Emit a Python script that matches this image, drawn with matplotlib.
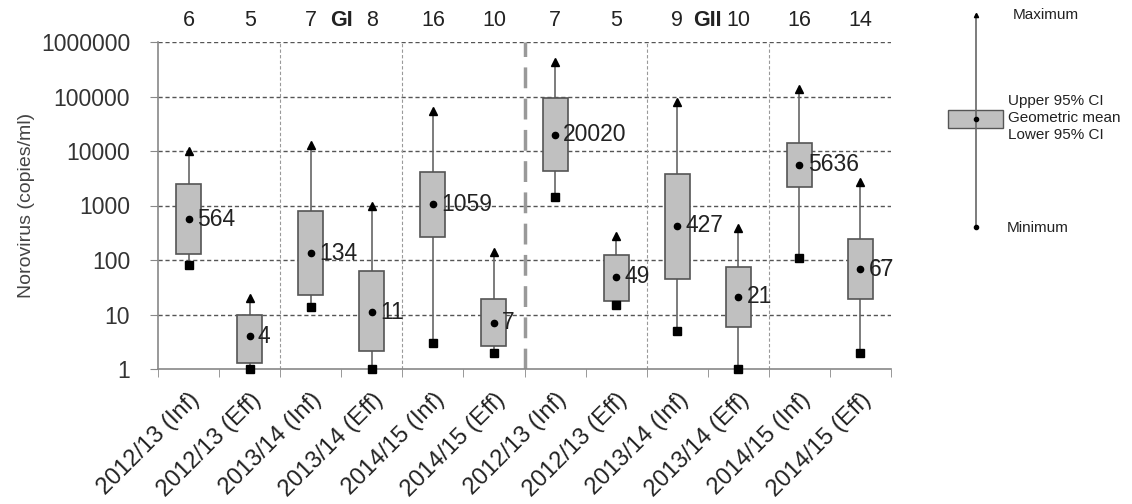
import matplotlib
matplotlib.use("Agg")
import matplotlib.pyplot as plt
import matplotlib.transforms as mtransforms

plt.rcParams['font.family'] = ['Liberation Sans', 'DejaVu Sans']

# data (copies/ml)
labels = ['2012/13 (Inf)', '2012/13 (Eff)', '2013/14 (Inf)', '2013/14 (Eff)',
          '2014/15 (Inf)', '2014/15 (Eff)', '2012/13 (Inf)', '2012/13 (Eff)',
          '2013/14 (Inf)', '2013/14 (Eff)', '2014/15 (Inf)', '2014/15 (Eff)']
n_samples = [6, 5, 7, 8, 16, 10, 7, 5, 9, 10, 16, 14]
geo_mean = [564, 4, 134, 11, 1059, 7, 20020, 49, 427, 21, 5636, 67]
ci_upper = [2460, 10, 800, 63, 4100, 19, 94000, 124, 3800, 74, 14000, 245]
ci_lower = [129, 1.3, 23, 2.1, 265, 2.6, 4300, 18, 45, 5.9, 2200, 19]
maximum = [10000, 20, 13000, 1000, 54000, 140, 430000, 275, 80000, 390, 138000, 2700]
minimum = [80, 1, 14, 1, 3, 2, 1440, 15, 5, 1, 110, 2]
groups = ['GI', 'GII']

x = list(range(len(labels)))

fig = plt.figure(figsize=(11.32, 5.04), dpi=100)
ax = fig.add_axes([158 / 1132, 1 - 369 / 504, 733 / 1132, 327 / 504])

ax.set_yscale('log')
ax.set_ylim(1, 1e6)
ax.set_xlim(-0.5, 11.5)

# grid
for v in [10, 100, 1000, 10000, 100000, 1000000]:
    ax.axhline(v, color='#555555', lw=1, ls=(0, (3, 2)), zorder=1)
for b in [1.5, 3.5, 7.5, 9.5]:
    ax.axvline(b, color='#999999', lw=0.8, ls=(0, (3, 2)), zorder=1)
ax.axvline(5.5, color='#999999', lw=2.5, ls=(0, (6, 3)), zorder=1)

# whiskers, boxes, markers
ax.vlines(x, minimum, maximum, color='#666666', lw=1.2, zorder=2)
heights = [u - l for u, l in zip(ci_upper, ci_lower)]
ax.bar(x, heights, bottom=ci_lower, width=0.41, color='#c0c0c0',
       edgecolor='#555555', linewidth=1.2, zorder=3)
ax.plot(x, maximum, '^', color='black', ms=6, zorder=4, clip_on=False)
ax.plot(x, minimum, 's', color='black', ms=5.5, zorder=4, clip_on=False)
ax.plot(x, geo_mean, 'o', color='black', ms=4.5, zorder=5)

for xi, m in zip(x, geo_mean):
    ax.annotate(str(m), (xi, m), xytext=(6, 0), textcoords='offset points',
                va='center', ha='left', fontsize=16.5, color='#222222', zorder=6)

# sample counts and group labels above the plot
trans = mtransforms.blended_transform_factory(ax.transData, ax.transAxes)
for xi, n in zip(x, n_samples):
    ax.text(xi, 1.067, str(n), transform=trans, ha='center', va='center',
            fontsize=15.5, color='#222222')
ax.text(2.5, 1.067, groups[0], transform=trans, ha='center', va='center',
        fontsize=15.5, fontweight='bold', color='#222222')
ax.text(8.5, 1.067, groups[1], transform=trans, ha='center', va='center',
        fontsize=15.5, fontweight='bold', color='#222222')

# axes styling
for s in ['top', 'right']:
    ax.spines[s].set_visible(False)
ax.spines['left'].set_color('#888888')
ax.spines['bottom'].set_color('#888888')
ax.spines['left'].set_linewidth(1.2)
ax.spines['bottom'].set_linewidth(1.2)

ax.set_yticks([1, 10, 100, 1000, 10000, 100000, 1000000])
ax.set_yticklabels(['1', '10', '100', '1000', '10000', '100000', '1000000'])
ax.minorticks_off()
ax.tick_params(axis='y', length=6, color='#888888', labelsize=16.5,
               labelcolor='#333333', pad=14)

ax.set_xticks(x)
ax.set_xticklabels(labels, rotation=45, ha='right', rotation_mode='anchor')
ax.tick_params(axis='x', length=0, labelsize=17, labelcolor='#222222', pad=14)
ax.set_xticks([i - 0.5 for i in range(13)], minor=True)
ax.tick_params(axis='x', which='minor', length=6, color='#888888')

ax.set_ylabel('Norovirus (copies/ml)', fontsize=14, color='#444444', labelpad=4)

# key on the right
lg = fig.add_axes([940 / 1132, 1 - 235 / 504, 192 / 1132, 225 / 504])
lg.set_xlim(0, 192)
lg.set_ylim(235, 10)
lg.axis('off')
lg.plot([36, 36], [15, 227], color='#666666', lw=1.2)
lg.add_patch(plt.Rectangle((8, 110), 55, 18, facecolor='#c0c0c0',
                           edgecolor='#555555', lw=1))
lg.plot([36], [15], '^', color='black', ms=3)
lg.plot([36], [227], 'o', color='black', ms=3)
lg.plot([36], [119], 'o', color='black', ms=3)
key_font = dict(fontsize=11, color='#222222', va='center', ha='left')
lg.text(73, 15, 'Maximum', **key_font)
lg.text(68, 101, 'Upper 95% CI', **key_font)
lg.text(68, 118, 'Geometric mean', **key_font)
lg.text(68, 135, 'Lower 95% CI', **key_font)
lg.text(67, 228, 'Minimum', **key_font)

fig.savefig('out.png', dpi=100)
